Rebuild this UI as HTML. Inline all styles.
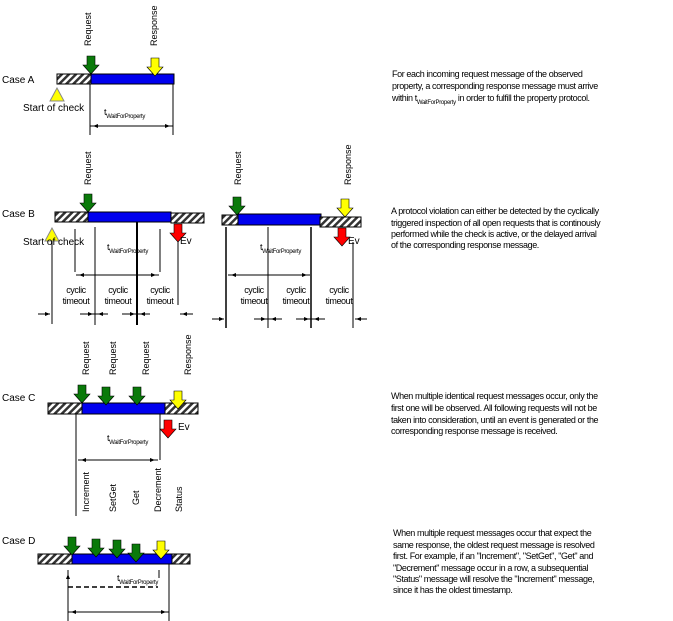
<!DOCTYPE html>
<html><head><meta charset="utf-8"><style>
html,body{margin:0;padding:0;background:#fff;width:673px;height:621px;overflow:hidden}
svg{display:block}
text{font-family:"Liberation Sans",sans-serif;fill:#000}
.t{font-size:9px;letter-spacing:-0.4px}
.s{font-size:6px;letter-spacing:-0.3px}
.l{font-size:10px}
.v{font-size:9px}
</style></head><body>
<svg width="673" height="621" viewBox="0 0 673 621" xmlns="http://www.w3.org/2000/svg">
<defs>
<pattern id="h" width="5" height="5" patternUnits="userSpaceOnUse" patternTransform="rotate(45)">
<rect width="5" height="5" fill="#fff"/><rect width="2.5" height="5" fill="#333"/></pattern>
<path id="ar" d="M-4,0 H4 V9 H8 L0,18 L-8,9 H-4 Z" stroke="#000" stroke-width="0.6"/>
<path id="ah" d="M0,0 l-5,-2 v4 z" fill="#000"/>
</defs>
<g stroke="#000" stroke-width="1">

<!-- Case A -->
<rect x="57" y="74" width="34" height="10" fill="url(#h)"/>
<rect x="91" y="74" width="83" height="10" fill="#0000ee"/>
<line x1="90" y1="84" x2="90" y2="135"/><line x1="173" y1="84" x2="173" y2="135"/>
<line x1="90" y1="126" x2="173" y2="126"/>
<polygon points="57,88 50,101 64,101" fill="#ffff00" stroke="#888"/>

<!-- Case B left -->
<rect x="55" y="212" width="33" height="10" fill="url(#h)"/>
<rect x="88" y="212" width="83" height="10" fill="#0000ee"/>
<rect x="171" y="213" width="33" height="10" fill="url(#h)"/>
<line x1="52" y1="228" x2="52" y2="324"/>
<line x1="75" y1="229" x2="75" y2="272"/>
<line x1="95" y1="227" x2="95" y2="325"/>
<line x1="137" y1="222" x2="137" y2="325" stroke-width="2"/>
<line x1="160" y1="229" x2="160" y2="272"/>
<line x1="178" y1="240" x2="178" y2="305"/>
<line x1="76" y1="275" x2="159" y2="275"/>
<line x1="38" y1="314" x2="50" y2="314"/>
<line x1="80" y1="314" x2="108" y2="314"/>
<line x1="122" y1="314" x2="150" y2="314"/>
<line x1="180" y1="314" x2="193" y2="314"/>
<polygon points="52,228 45,241 59,241" fill="#ffff00" stroke="#888"/>

<!-- Case B right -->
<rect x="222" y="215" width="16" height="10" fill="url(#h)"/>
<rect x="238" y="214" width="83" height="11" fill="#0000ee"/>
<rect x="320" y="217" width="41" height="10" fill="url(#h)"/>
<line x1="226" y1="227" x2="226" y2="328" stroke-width="1.5"/>
<line x1="268" y1="227" x2="268" y2="328"/>
<line x1="311" y1="227" x2="311" y2="328" stroke-width="1.5"/>
<line x1="353" y1="242" x2="353" y2="328"/>
<line x1="228" y1="275" x2="310" y2="275"/>
<line x1="212" y1="319" x2="224" y2="319"/>
<line x1="254" y1="319" x2="282" y2="319"/>
<line x1="296" y1="319" x2="325" y2="319"/>
<line x1="355" y1="319" x2="367" y2="319"/>

<!-- Case C -->
<rect x="48" y="403" width="34" height="11" fill="url(#h)"/>
<rect x="82" y="403" width="83" height="11" fill="#0000ee"/>
<rect x="165" y="403" width="33" height="11" fill="url(#h)"/>
<line x1="76" y1="414" x2="76" y2="516"/>
<line x1="160" y1="414" x2="160" y2="460"/>
<line x1="78" y1="460" x2="158" y2="460"/>

<!-- Case D -->
<rect x="38" y="554" width="34" height="10" fill="url(#h)"/>
<rect x="72" y="554" width="100" height="10" fill="#0000ee"/>
<rect x="172" y="554" width="18" height="10" fill="url(#h)"/>
<line x1="68" y1="570" x2="68" y2="621"/>
<line x1="169" y1="564" x2="169" y2="621"/>
<line x1="159" y1="570" x2="159" y2="578"/>
<line x1="68" y1="587" x2="158" y2="587" stroke-dasharray="5,3" stroke-width="1.5"/>
<line x1="68" y1="612" x2="169" y2="612"/>
</g>
<!-- arrowheads small -->
<g fill="#000">
<use href="#ah" transform="translate(93,126) rotate(180)"/><use href="#ah" transform="translate(170,126)"/>
<use href="#ah" transform="translate(79,275) rotate(180)"/><use href="#ah" transform="translate(156,275)"/>
<use href="#ah" transform="translate(231,275) rotate(180)"/><use href="#ah" transform="translate(307,275)"/>
<use href="#ah" transform="translate(81,460) rotate(180)"/><use href="#ah" transform="translate(155,460)"/>
<use href="#ah" transform="translate(71,612) rotate(180)"/><use href="#ah" transform="translate(166,612)"/>
<use href="#ah" transform="translate(68,574) rotate(-90)"/>
<use href="#ah" transform="translate(50,314)"/><use href="#ah" transform="translate(93,314)"/><use href="#ah" transform="translate(98,314) rotate(180)"/>
<use href="#ah" transform="translate(135,314)"/><use href="#ah" transform="translate(140,314) rotate(180)"/><use href="#ah" transform="translate(182,314) rotate(180)"/>
<use href="#ah" transform="translate(224,319)"/><use href="#ah" transform="translate(266,319)"/><use href="#ah" transform="translate(271,319) rotate(180)"/>
<use href="#ah" transform="translate(309,319)"/><use href="#ah" transform="translate(314,319) rotate(180)"/><use href="#ah" transform="translate(356,319) rotate(180)"/>
</g>
<!-- block arrows -->
<use href="#ar" fill="#0a7a0a" transform="translate(91,56)"/>
<use href="#ar" fill="#ffff00" transform="translate(155,58)"/>
<use href="#ar" fill="#0a7a0a" transform="translate(88,194)"/>
<use href="#ar" fill="#ff0000" transform="translate(178,224)"/>
<use href="#ar" fill="#0a7a0a" transform="translate(237,197)"/>
<use href="#ar" fill="#ffff00" transform="translate(345,199)"/>
<use href="#ar" fill="#ff0000" transform="translate(342,228)"/>
<use href="#ar" fill="#0a7a0a" transform="translate(82,385)"/>
<use href="#ar" fill="#0a7a0a" transform="translate(106,387)"/>
<use href="#ar" fill="#0a7a0a" transform="translate(137,387)"/>
<use href="#ar" fill="#ffff00" transform="translate(178,391)"/>
<use href="#ar" fill="#ff0000" transform="translate(168,420)"/>
<use href="#ar" fill="#0a7a0a" transform="translate(72,537)"/>
<use href="#ar" fill="#0a7a0a" transform="translate(96,539)"/>
<use href="#ar" fill="#0a7a0a" transform="translate(117,540)"/>
<use href="#ar" fill="#0a7a0a" transform="translate(136,544)"/>
<use href="#ar" fill="#ffff00" transform="translate(161,541)"/>

<!-- labels -->
<text class="l" x="2" y="83">Case A</text>
<text class="l" x="2" y="217">Case B</text>
<text class="l" x="2" y="401">Case C</text>
<text class="l" x="2" y="544">Case D</text>
<text class="l" x="23" y="111">Start of check</text>
<text class="l" x="23" y="245">Start of check</text>
<text class="t" x="104" y="115">t<tspan class="s" dy="3">WaitForProperty</tspan></text>
<text class="t" x="107" y="250">t<tspan class="s" dy="3">WaitForProperty</tspan></text>
<text class="t" x="260" y="250">t<tspan class="s" dy="3">WaitForProperty</tspan></text>
<text class="t" x="107" y="441">t<tspan class="s" dy="3">WaitForProperty</tspan></text>
<text class="t" x="117" y="581">t<tspan class="s" dy="3">WaitForProperty</tspan></text>
<text class="l" x="180" y="244">Ev</text>
<text class="l" x="348" y="244">Ev</text>
<text class="l" x="178" y="430">Ev</text>
<g class="t" text-anchor="middle">
<text x="76" y="293">cyclic</text><text x="76" y="304">timeout</text>
<text x="118" y="293">cyclic</text><text x="118" y="304">timeout</text>
<text x="160" y="293">cyclic</text><text x="160" y="304">timeout</text>
<text x="254" y="293">cyclic</text><text x="254" y="304">timeout</text>
<text x="296" y="293">cyclic</text><text x="296" y="304">timeout</text>
<text x="339" y="293">cyclic</text><text x="339" y="304">timeout</text>
</g>
<!-- rotated labels -->
<g class="v">
<text transform="translate(91,46) rotate(-90)">Request</text>
<text transform="translate(157,46) rotate(-90)">Response</text>
<text transform="translate(91,185) rotate(-90)">Request</text>
<text transform="translate(241,185) rotate(-90)">Request</text>
<text transform="translate(351,185) rotate(-90)">Response</text>
<text transform="translate(89,375) rotate(-90)">Request</text>
<text transform="translate(116,375) rotate(-90)">Request</text>
<text transform="translate(149,375) rotate(-90)">Request</text>
<text transform="translate(191,375) rotate(-90)">Response</text>
<text transform="translate(89,512) rotate(-90)">Increment</text>
<text transform="translate(116,512) rotate(-90)">SetGet</text>
<text transform="translate(139,505) rotate(-90)">Get</text>
<text transform="translate(161,512) rotate(-90)">Decrement</text>
<text transform="translate(182,512) rotate(-90)">Status</text>
</g>
<!-- description text -->
<g class="t">
<text x="392" y="77">For each incoming request message of the observed</text>
<text x="392" y="89">property, a corresponding response message must arrive</text>
<text x="392" y="101">within t<tspan class="s" dy="3">WaitForProperty</tspan><tspan dy="-3"> in order to fulfill the property protocol.</tspan></text>
<text x="391" y="214">A protocol violation can either be detected by the cyclically</text>
<text x="391" y="226">triggered inspection of all open requests that is continously</text>
<text x="391" y="237">performed while the check is active, or the delayed arrival</text>
<text x="391" y="248">of the corresponding response message.</text>
<text x="391" y="399">When multiple identical request messages occur, only the</text>
<text x="391" y="411">first one will be observed. All following requests will not be</text>
<text x="391" y="423">taken into consideration, until an event is generated or the</text>
<text x="391" y="434">corresponding response message is received.</text>
<text x="393" y="536">When multiple request messages occur that expect the</text>
<text x="393" y="548">same response, the oldest request message is resolved</text>
<text x="393" y="559">first. For example, if an "Increment", "SetGet", "Get" and</text>
<text x="393" y="571">"Decrement" message occur in a row, a subsequential</text>
<text x="393" y="582">"Status" message will resolve the "Increment" message,</text>
<text x="393" y="593">since it has the oldest timestamp.</text>
</g>
</svg>
</body></html>
